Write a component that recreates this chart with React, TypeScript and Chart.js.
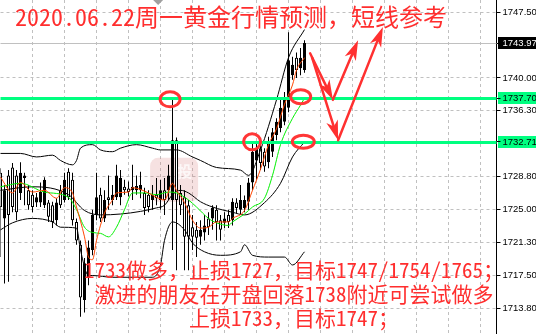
import React, { useEffect, useRef } from 'react';
import { Chart, registerables } from 'chart.js';

Chart.register(...registerables);

// ---------- data ----------
const slotCount = 125; // candle slots incl. empty right-hand space
const opens = [
  1729.2, 1724.0, 1728.9, 1729.8, 1728.9, 1726.9, 1728.6, 1727.2, 1726.7, 1725.8,
  1725.8, 1725.5, 1725.8, 1725.5, 1723.8, 1727.2, 1726.1, 1729.3, 1728.4, 1723.6,
  1721.0, 1714.7, 1717.3, 1720.4, 1724.4, 1726.7, 1724.0, 1726.4, 1726.1, 1726.4,
  1726.4, 1727.6, 1727.4, 1727.2, 1727.2, 1727.2, 1726.9, 1726.7, 1726.1, 1726.7,
  1726.1, 1727.2, 1727.2, 1726.1, 1732.9, 1726.9, 1726.4, 1725.5, 1723.0, 1722.7,
  1721.9, 1722.4, 1724.0, 1724.0, 1725.0, 1723.8, 1723.5, 1724.4, 1723.8, 1725.8,
  1725.0, 1725.2, 1725.9, 1728.1, 1730.6, 1732.0, 1731.6, 1730.4, 1731.6, 1733.5,
  1734.3, 1735.0, 1736.6, 1740.3, 1742.3, 1741.1, 1740.9,
];
const highs = [
  1729.7, 1727.8, 1729.5, 1730.3, 1729.5, 1730.4, 1729.2, 1727.8, 1727.2, 1726.9,
  1728.1, 1728.7, 1726.1, 1725.9, 1726.3, 1727.8, 1729.2, 1729.7, 1729.2, 1724.0,
  1721.5, 1719.5, 1721.5, 1725.0, 1729.2, 1727.5, 1727.2, 1728.9, 1727.8, 1730.1,
  1729.5, 1728.4, 1728.2, 1730.1, 1728.9, 1729.3, 1727.5, 1727.2, 1727.8, 1728.6,
  1728.4, 1728.6, 1730.1, 1737.7, 1733.2, 1727.8, 1727.2, 1726.1, 1724.4, 1723.6,
  1723.8, 1724.4, 1724.7, 1725.5, 1725.5, 1724.4, 1724.7, 1725.0, 1726.3, 1726.3,
  1727.8, 1726.6, 1728.6, 1732.7, 1732.7, 1732.4, 1732.0, 1733.3, 1734.3, 1735.4,
  1737.5, 1738.4, 1745.2, 1742.4, 1742.9, 1743.4, 1744.3,
];
const lows = [
  1719.6, 1716.6, 1716.8, 1724.7, 1723.8, 1726.1, 1725.5, 1725.0, 1724.7, 1725.3,
  1725.3, 1725.2, 1723.6, 1722.9, 1723.2, 1725.2, 1725.8, 1726.1, 1723.2, 1721.0,
  1712.8, 1713.3, 1716.4, 1719.8, 1723.8, 1723.6, 1723.6, 1725.0, 1725.5, 1726.1,
  1725.5, 1726.7, 1726.5, 1726.1, 1726.7, 1726.3, 1724.4, 1724.7, 1725.0, 1725.5,
  1725.0, 1724.4, 1726.1, 1720.4, 1718.1, 1724.4, 1718.1, 1718.1, 1720.4, 1719.6,
  1721.0, 1721.5, 1722.1, 1722.7, 1721.5, 1721.5, 1722.9, 1722.9, 1723.2, 1724.6,
  1724.4, 1724.7, 1725.0, 1727.2, 1728.4, 1729.5, 1729.3, 1729.7, 1731.0, 1732.9,
  1733.8, 1734.6, 1736.1, 1739.8, 1740.0, 1740.3, 1740.6,
];
const closes = [
  1725.3, 1727.2, 1724.4, 1725.3, 1724.7, 1729.2, 1728.9, 1725.5, 1725.3, 1726.4,
  1727.0, 1728.4, 1724.2, 1723.6, 1725.8, 1725.5, 1728.4, 1726.4, 1723.8, 1721.5,
  1715.0, 1718.9, 1720.7, 1724.4, 1726.4, 1724.0, 1726.1, 1726.1, 1726.7, 1728.9,
  1728.6, 1727.2, 1727.0, 1727.6, 1727.7, 1727.8, 1725.2, 1725.3, 1726.7, 1726.3,
  1727.2, 1726.1, 1728.9, 1732.9, 1726.1, 1725.5, 1721.9, 1721.9, 1721.9, 1721.8,
  1722.7, 1723.2, 1723.0, 1725.2, 1723.6, 1722.7, 1724.0, 1723.6, 1725.9, 1725.2,
  1726.1, 1726.1, 1728.1, 1731.6, 1732.0, 1730.3, 1729.9, 1732.7, 1733.8, 1735.0,
  1736.6, 1737.7, 1742.0, 1741.5, 1740.9, 1742.3, 1743.97,
];

// indicator lines: [slot index, price]
const maFast = [
  [0, 1728.7], [3, 1726.9], [5, 1728.1], [8, 1727.0], [11, 1727.2], [14, 1726.3], [16, 1727.5],
  [18, 1726.9], [19, 1725.3], [21, 1721.9], [22, 1719.6], [23, 1719.3], [24, 1721.5], [26, 1724.6],
  [28, 1726.1], [29, 1726.9], [32, 1727.0], [33, 1727.5], [37, 1726.9], [39, 1726.4], [41, 1726.1],
  [43, 1728.0], [44, 1727.2], [46, 1725.8], [48, 1723.8], [50, 1722.9], [52, 1723.0], [54, 1723.6],
  [57, 1723.6], [58, 1724.0], [61, 1724.9], [63, 1727.2], [65, 1729.6], [67, 1732.4], [69, 1734.2],
  [71, 1737.0], [73, 1739.2], [74, 1740.9], [76, 1742.3],
];
const maSlow = [
  [0, 1727.6], [5, 1728.0], [11, 1727.0], [17, 1726.4], [19, 1725.0], [21, 1723.0], [23, 1722.4],
  [25, 1722.3], [27, 1721.9], [29, 1723.0], [31, 1725.0], [33, 1726.9], [36, 1726.9], [39, 1726.7],
  [42, 1727.0], [44, 1726.9], [47, 1726.1], [49, 1725.3], [52, 1724.0], [54, 1723.5], [57, 1723.2],
  [58, 1723.6], [61, 1724.5], [63, 1725.3], [66, 1726.3], [68, 1728.9], [70, 1732.4], [73, 1735.4],
  [75, 1736.9], [76, 1737.7],
];
const bbUpper = [
  [0, 1731.4], [5, 1731.4], [9, 1731.0], [13, 1731.2], [15, 1730.6], [18, 1730.1], [19, 1730.6],
  [20, 1732.0], [23, 1732.4], [25, 1731.8], [28, 1731.6], [30, 1732.0], [34, 1732.4], [38, 1732.0],
  [40, 1731.8], [44, 1731.8], [48, 1731.0], [50, 1730.6], [54, 1729.8], [60, 1729.5], [62, 1728.9],
  [65, 1731.8], [69, 1737.5], [72, 1742.3], [76, 1745.5],
];
const bbMiddle = [
  [0, 1727.2], [8, 1727.6], [17, 1726.7], [21, 1724.9], [25, 1724.4], [30, 1724.5], [35, 1724.8],
  [39, 1725.2], [41, 1725.5], [43, 1726.7], [45, 1727.2], [47, 1726.9], [50, 1725.9], [53, 1725.3],
  [58, 1724.7], [61, 1724.4], [66, 1725.8], [70, 1728.0], [73, 1731.0], [76, 1732.7],
];
const bbLower = [
  [0, 1722.7], [3, 1723.5], [8, 1724.0], [13, 1723.6], [15, 1723.0], [19, 1722.9], [20, 1720.4],
  [22, 1717.5], [23, 1717.5], [28, 1717.3], [33, 1717.3], [38, 1717.3], [40, 1718.7], [41, 1721.5],
  [43, 1723.6], [46, 1722.7], [48, 1721.2], [51, 1720.2], [55, 1719.8], [60, 1720.2], [61, 1721.0],
  [63, 1719.8], [67, 1719.6], [71, 1719.6], [73, 1718.7], [76, 1720.2],
];

const yMin = 1710.84;
const yMax = 1748.87;
const yTickValues = [1747.5, 1743.97, 1740.0, 1737.7, 1736.3, 1732.71, 1728.8, 1725.0, 1721.3, 1717.5, 1713.8];
const currentPrice = 1743.97;
const levels = [1737.7, 1732.71];

// annotations in data units
const circles = [ // slot, price, rx, ry
  [42.4, 1737.56, 10, 7.5],
  [62.9, 1732.72, 8.5, 8],
  [75.05, 1737.85, 10, 7],
  [75.7, 1732.73, 11, 6.5],
];
const arrows = [ // from slot, price -> to slot, price
  [77.4, 1742.8, 83.1, 1737.5],
  [83.1, 1737.5, 89.4, 1744.3],
  [77.9, 1742.3, 84.4, 1732.9],
  [84.4, 1732.9, 95.6, 1745.8],
];
const watermarkBox = [37.4, 1730.9, 49.4, 1725.9];

const titleText = '2020.06.22周一黄金行情预测，短线参考';
const noteLines = [
  '1733做多，止损1727，目标1747/1754/1765；',
  '激进的朋友在开盘回落1738附近可尝试做多',
  '上损1733，目标1747；',
];

// ---------- styling ----------
const RED = '#ff2e2e';
const LEVEL_GREEN = '#00ff80';
const CJK = '"Noto Sans Mono CJK SC", "Noto Sans CJK SC", sans-serif';

function sparse(points: number[][]) {
  const arr: (number | null)[] = new Array(slotCount).fill(null);
  for (const [i, v] of points) arr[i] = v;
  return arr;
}

function drawArrow(ctx: CanvasRenderingContext2D, x1: number, y1: number, x2: number, y2: number) {
  const ang = Math.atan2(y2 - y1, x2 - x1);
  const c = Math.cos(ang), s = Math.sin(ang);
  const headLen = 20, headW = 6;
  ctx.beginPath();
  ctx.moveTo(x1, y1);
  ctx.lineTo(x2 - c * headLen * 0.6, y2 - s * headLen * 0.6);
  ctx.stroke();
  const bx = x2 - c * headLen, by = y2 - s * headLen;
  const nx = x2 - c * headLen * 0.72, ny = y2 - s * headLen * 0.72;
  ctx.beginPath();
  ctx.moveTo(x2, y2);
  ctx.lineTo(bx - s * headW, by + c * headW);
  ctx.lineTo(nx, ny);
  ctx.lineTo(bx + s * headW, by - c * headW);
  ctx.closePath();
  ctx.fill();
}

const overlay = {
  id: 'overlay',
  beforeDraw(chart: any) {
    const { ctx, chartArea, scales } = chart;
    const y = scales.y;
    const tags: [number, string][] = [[currentPrice, '#000'], [levels[0], LEVEL_GREEN], [levels[1], LEVEL_GREEN]];
    ctx.save();
    for (const [v, c] of tags) {
      const py = Math.round(y.getPixelForValue(v));
      ctx.fillStyle = c;
      ctx.fillRect(Math.round(chartArea.right) + 1, py - 6, chart.width - chartArea.right, 12);
    }
    ctx.restore();
  },
  beforeDatasetsDraw(chart: any) {
    const { ctx, chartArea, scales } = chart;
    const { x, y } = scales;
    ctx.save();
    // watermark seal
    const [k1, p1, k2, p2] = watermarkBox;
    const wx1 = x.getPixelForValue(k1), wx2 = x.getPixelForValue(k2);
    const wy1 = y.getPixelForValue(p1), wy2 = y.getPixelForValue(p2);
    ctx.fillStyle = 'rgba(215,120,120,0.22)';
    ctx.beginPath();
    (ctx as any).roundRect(wx1, wy1, wx2 - wx1, wy2 - wy1, 8);
    ctx.fill();
    ctx.fillStyle = 'rgba(255,255,255,0.75)';
    ctx.font = `bold 15px ${CJK}`;
    ctx.textAlign = 'center';
    ctx.textBaseline = 'middle';
    ctx.fillText('投', wx1 + (wx2 - wx1) * 0.72, wy1 + (wy2 - wy1) * 0.3);
    // current price line
    const py = Math.round(y.getPixelForValue(currentPrice)) + 0.5;
    ctx.strokeStyle = '#c0c0c0';
    ctx.lineWidth = 1;
    ctx.beginPath();
    ctx.moveTo(chartArea.left, py);
    ctx.lineTo(chartArea.right, py);
    ctx.stroke();
    ctx.restore();
  },
  afterDatasetsDraw(chart: any) {
    const { ctx, chartArea, scales } = chart;
    ctx.save();
    ctx.strokeStyle = LEVEL_GREEN;
    ctx.lineWidth = 3;
    for (const v of levels) {
      const py = Math.round(scales.y.getPixelForValue(v)) + 0.5;
      ctx.beginPath();
      ctx.moveTo(chartArea.left, py);
      ctx.lineTo(chartArea.right, py);
      ctx.stroke();
    }
    ctx.restore();
  },
  afterDraw(chart: any) {
    const { ctx, scales } = chart;
    const { x, y } = scales;
    ctx.save();
    // top chart-shift marker
    const mx = x.getPixelForValue(39.4);
    ctx.fillStyle = '#a0a0a0';
    ctx.beginPath();
    ctx.moveTo(mx - 5, 0);
    ctx.lineTo(mx + 5, 0);
    ctx.lineTo(mx, 5);
    ctx.closePath();
    ctx.fill();
    // circles
    ctx.strokeStyle = '#ff3636';
    ctx.lineWidth = 3;
    for (const [k, p, rx, ry] of circles) {
      ctx.beginPath();
      ctx.ellipse(x.getPixelForValue(k), y.getPixelForValue(p), rx, ry, 0, 0, Math.PI * 2);
      ctx.stroke();
    }
    // arrows
    ctx.strokeStyle = '#ff3030';
    ctx.fillStyle = '#ff3030';
    ctx.lineWidth = 2.5;
    ctx.lineCap = 'round';
    for (const [k1, p1, k2, p2] of arrows) {
      drawArrow(ctx, x.getPixelForValue(k1), y.getPixelForValue(p1), x.getPixelForValue(k2), y.getPixelForValue(p2));
    }
    // texts
    ctx.fillStyle = RED;
    ctx.textBaseline = 'alphabetic';
    ctx.textAlign = 'left';
    ctx.font = `24px ${CJK}`;
    ctx.fillText(titleText, 15, 26);
    ctx.font = `21px ${CJK}`;
    ctx.textAlign = 'center';
    const baselines = [278, 302, 326];
    noteLines.forEach((t, i) => ctx.fillText(t, 294, baselines[i]));
    ctx.restore();
  },
};

export default function App() {
  const ref = useRef<HTMLCanvasElement>(null);
  useEffect(() => {
    const labels = Array.from({ length: slotCount }, (_, i) => String(i));
    const bodies = opens.map((o, i) => [o, closes[i]]);
    const wicks = lows.map((l, i) => [l, highs[i]]);
    const bodyColors = opens.map((o, i) => (closes[i] >= o ? '#000000' : '#ffffff'));
    const lineBase = {
      type: 'line',
      borderWidth: 1,
      pointRadius: 0,
      spanGaps: true,
      cubicInterpolationMode: 'monotone',
      fill: false,
    };
    const special = [currentPrice, ...levels];
    const chart = new Chart(ref.current as HTMLCanvasElement, {
      type: 'bar',
      data: {
        labels,
        datasets: [
          { ...lineBase, label: 'fast', data: sparse(maFast), borderColor: '#ff4500', order: 0 },
          { ...lineBase, label: 'slow', data: sparse(maSlow), borderColor: '#00f000', order: 1 },
          { ...lineBase, label: 'upper', data: sparse(bbUpper), borderColor: '#000000', order: 2 },
          { ...lineBase, label: 'middle', data: sparse(bbMiddle), borderColor: '#000000', order: 3 },
          { ...lineBase, label: 'lower', data: sparse(bbLower), borderColor: '#000000', order: 4 },
          {
            type: 'bar', label: 'body', data: bodies, backgroundColor: bodyColors, borderColor: '#000000',
            borderWidth: 1, borderSkipped: false, barThickness: 3, grouped: false, minBarLength: 1,
            inflateAmount: 0, order: 5,
          },
          {
            type: 'bar', label: 'wick', data: wicks, backgroundColor: '#000000', borderWidth: 0,
            barThickness: 1, grouped: false, inflateAmount: 0, order: 6,
          },
        ] as any,
      },
      options: {
        responsive: false,
        animation: false,
        events: [],
        layout: { padding: { left: 0.5, right: 0, top: 0, bottom: 0 } },
        plugins: { legend: { display: false }, tooltip: { enabled: false } },
        scales: {
          x: {
            type: 'category',
            offset: false,
            ticks: { display: false, autoSkip: false },
            grid: {
              offset: false,
              drawTicks: false,
              color: (c: any) => (c.index > 0 && c.index % 8 === 0 ? '#c0c0c0' : 'rgba(0,0,0,0)'),
            },
            border: { display: false, dash: [3, 3] },
          },
          y: {
            position: 'right',
            min: yMin,
            max: yMax,
            afterBuildTicks: (s: any) => {
              s.ticks = yTickValues.map((v) => ({ value: v }));
            },
            afterFit: (s: any) => {
              s.width = 39.5;
              s.paddingTop = 0;
              s.paddingBottom = 0;
            },
            ticks: {
              autoSkip: false,
              padding: 2,
              font: { family: 'Liberation Sans', size: 9.5 },
              color: (c: any) => (c.tick && c.tick.value === currentPrice ? '#ffffff' : '#000000'),
              callback: (v: any) => Number(v).toFixed(2),
            },
            grid: {
              color: (c: any) => (c.tick && special.includes(c.tick.value) ? 'rgba(0,0,0,0)' : '#c0c0c0'),
              tickColor: '#000000',
              tickLength: 4,
              lineWidth: 1,
            },
            border: { display: true, color: '#000000', width: 1, dash: [3, 3] },
          },
        },
      } as any,
      plugins: [overlay as any],
    });
    return () => chart.destroy();
  }, []);
  return (
    <div style={{ position: 'absolute', left: 0, top: 0, width: 536, height: 334, background: '#ffffff' }}>
      <canvas ref={ref} width={536} height={334} style={{ display: 'block', width: 536, height: 334 }} />
    </div>
  );
}
